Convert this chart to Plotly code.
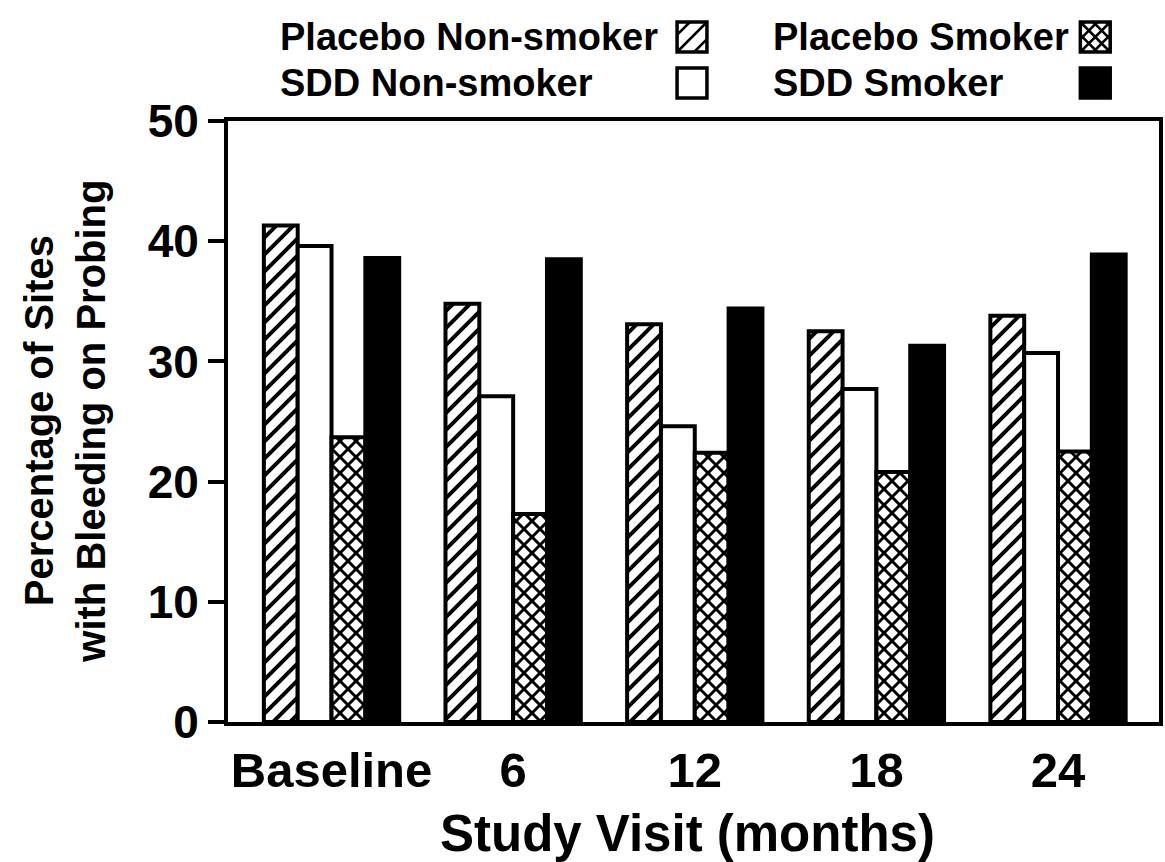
import plotly.graph_objects as go

# Study visits and the percentage of sites with bleeding on probing
visits = ["Baseline", "6", "12", "18", "24"]
placebo_non_smoker = [41.3, 34.8, 33.1, 32.5, 33.8]
sdd_non_smoker = [39.6, 27.1, 24.6, 27.7, 30.7]
placebo_smoker = [23.7, 17.3, 22.4, 20.8, 22.5]
sdd_smoker = [38.6, 38.5, 34.4, 31.3, 38.9]

series_names = ["Placebo Non-smoker", "SDD Non-smoker", "Placebo Smoker", "SDD Smoker"]
y_ticks = [0, 10, 20, 30, 40, 50]

FONT = "Liberation Sans, Arial, Helvetica, sans-serif"

# Plot area in page pixels
PLOT_L, PLOT_T, PLOT_W, PLOT_H = 228, 121, 935, 601


def px(x):
    return (x - PLOT_L) / PLOT_W


def py(y):
    return (PLOT_T + PLOT_H - y) / PLOT_H


# pattern tiles are size*sqrt(2) wide; pick sizes giving whole-pixel tiles
styles = {
    "Placebo Non-smoker": dict(color="white", pattern=dict(shape="/", size=17 / 2 ** 0.5, solidity=0.33,
                                                           fgcolor="black", bgcolor="white",
                                                           fgopacity=1)),
    "SDD Non-smoker": dict(color="white"),
    "Placebo Smoker": dict(color="white", pattern=dict(shape="x", size=16 / 2 ** 0.5, solidity=0.45,
                                                       fgcolor="black", bgcolor="white",
                                                       fgopacity=1)),
    "SDD Smoker": dict(color="black"),
}

fig = go.Figure()
for name, vals in zip(series_names, [placebo_non_smoker, sdd_non_smoker, placebo_smoker, sdd_smoker]):
    st = styles[name]
    marker = dict(color=st["color"], line=dict(color="black", width=4))
    if "pattern" in st:
        marker["pattern"] = st["pattern"]
    fig.add_trace(go.Bar(x=visits, y=vals, name=name, marker=marker, showlegend=False))

# Legend: text on the left, swatch on the right
shapes = []
annotations = []
legend_cells = [
    ("Placebo Non-smoker", 278, 679, 22),
    ("Placebo Smoker", 773, 1084, 22),
    ("SDD Non-smoker", 278, 679, 68),
    ("SDD Smoker", 773, 1084, 68),
]
SW = 30
for name, tx, bx, by in legend_cells:
    annotations.append(dict(text=name, x=px(tx), y=py(by + SW / 2), xref="paper", yref="paper",
                            xanchor="left", yanchor="middle", showarrow=False,
                            font=dict(family=FONT, size=38, color="black", weight="bold")))
    fill = "black" if name == "SDD Smoker" else "white"
    shapes.append(dict(type="rect", xref="paper", yref="paper",
                       x0=px(bx), x1=px(bx + SW), y0=py(by + SW), y1=py(by),
                       line=dict(color="black", width=3.5), fillcolor=fill))
    hatch = []
    if name == "Placebo Non-smoker":
        hatch = [("up", d) for d in (-0.57, 0.0, 0.57)]
    elif name == "Placebo Smoker":
        offs = (-0.86, -0.43, 0.0, 0.43, 0.86)
        hatch = [("up", d) for d in offs] + [("down", d) for d in offs]
    for kind, d in hatch:
        s = SW
        dd = d * s
        if kind == "up":
            u0, u1 = max(0, -dd), min(s, s - dd)
            v0, v1 = u0 + dd, u1 + dd
        else:
            # v = s - u + dd
            u0, u1 = max(0, dd), min(s, s + dd)
            v0, v1 = s - u0 + dd, s - u1 + dd
        if u1 - u0 < 1:
            continue
        shapes.append(dict(type="line", xref="paper", yref="paper",
                           x0=px(bx + u0), x1=px(bx + u1),
                           y0=py(by + s - v0), y1=py(by + s - v1),
                           line=dict(color="black", width=2.5)))

# Axis titles
annotations.append(dict(text="Percentage of Sites<br>with Bleeding on Probing",
                        x=px(64), y=py(421), xref="paper", yref="paper",
                        xanchor="center", yanchor="middle", textangle=-90, showarrow=False,
                        font=dict(family=FONT, size=40, color="black", weight="bold")))
annotations.append(dict(text="Study Visit (months)",
                        x=px(689), y=py(833), xref="paper", yref="paper",
                        xanchor="center", yanchor="middle", showarrow=False,
                        font=dict(family=FONT, size=51, color="black", weight="bold")))

fig.update_layout(
    width=1165, height=862,
    margin=dict(l=PLOT_L, r=1165 - PLOT_L - PLOT_W, t=PLOT_T, b=862 - PLOT_T - PLOT_H),
    paper_bgcolor="white", plot_bgcolor="white",
    barmode="group", bargap=0.255, bargroupgap=0,
    shapes=shapes, annotations=annotations,
    showlegend=False,
)
fig.update_xaxes(
    type="category", range=[-0.57, 4.556],
    showline=True, linewidth=4, linecolor="black", mirror=True,
    ticks="", showgrid=False, zeroline=False, ticklabelstandoff=2,
    tickfont=dict(family=FONT, size=49, color="black", weight="bold"),
)
fig.update_yaxes(
    range=[0, 50], tickvals=y_ticks,
    showline=True, linewidth=4, linecolor="black", mirror=True,
    ticks="outside", ticklen=16, tickwidth=4, tickcolor="black",
    showgrid=False, zeroline=False,
    tickfont=dict(family=FONT, size=46, color="black", weight="bold"),
)

fig.write_html("out.html")
